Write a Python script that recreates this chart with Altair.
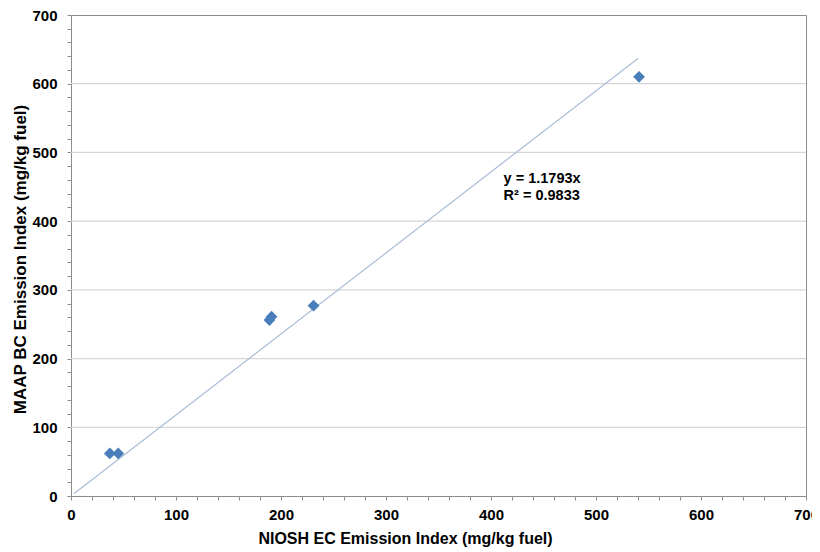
import altair as alt
import pandas as pd

# Data
niosh_ec = [37, 45, 189, 191, 231, 541]
maap_bc = [62, 62, 256, 261, 277, 610]

trend_x = [3, 540]
trend_y = [3.5, 636.8]

grid_y = [100, 200, 300, 400, 500, 600]

eq_lines = ["y = 1.1793x", "R² = 0.9833"]
eq_x = [412, 412]
eq_y = [461, 436]

pts = pd.DataFrame({"x": niosh_ec, "y": maap_bc})
trend = pd.DataFrame({"x": trend_x, "y": trend_y})
grid = pd.DataFrame({"y": grid_y})
eq = pd.DataFrame({"x": eq_x, "y": eq_y, "t": eq_lines})

FONT = "Liberation Sans"
ticks = list(range(0, 701, 20))
label_expr = "datum.value % 100 == 0 ? datum.label : ''"

xs = alt.Scale(domain=[0, 700], nice=False)
ys = alt.Scale(domain=[0, 700], nice=False)

x_axis = alt.Axis(values=ticks, labelExpr=label_expr, grid=False,
                  title="NIOSH EC Emission Index (mg/kg fuel)",
                  labelFont=FONT, labelFontSize=15, labelFontWeight="bold",
                  labelColor="#000", titleFont=FONT, titleFontSize=16,
                  titleFontWeight="bold", titleColor="#000",
                  titleX=334, titleY=47, titleAlign="center",
                  titleBaseline="alphabetic",
                  domainColor="#8c8c8c", tickColor="#8c8c8c", tickSize=4,
                  labelPadding=7, labelFlush=False, labelOverlap=False)
y_axis = alt.Axis(values=ticks, labelExpr=label_expr, grid=False,
                  title="MAAP BC Emission Index (mg/kg fuel)",
                  labelFont=FONT, labelFontSize=15, labelFontWeight="bold",
                  labelColor="#000", titleFont=FONT, titleFontSize=17,
                  titleFontWeight="bold", titleColor="#000",
                  titleX=-51, titleY=244, titleAlign="center",
                  titleBaseline="middle", titleAngle=270,
                  domainColor="#8c8c8c", tickColor="#8c8c8c", tickSize=4,
                  labelPadding=10, labelFlush=False, labelOverlap=False)

gridlines = alt.Chart(grid).mark_rule(color="#d6d6d6", strokeWidth=1.2).encode(
    y=alt.Y("y:Q", scale=ys, axis=y_axis)
)

line = alt.Chart(trend).mark_line(color="#a9bcd4", strokeWidth=1.2).encode(
    x=alt.X("x:Q", scale=xs, axis=x_axis),
    y=alt.Y("y:Q", scale=ys, axis=y_axis),
)

points = alt.Chart(pts).mark_point(shape="diamond", filled=True, size=140,
                                   color="#4a7ebb", opacity=1).encode(
    x=alt.X("x:Q", scale=xs, axis=x_axis),
    y=alt.Y("y:Q", scale=ys, axis=y_axis),
)

text = alt.Chart(eq).mark_text(align="left", baseline="middle", font=FONT,
                               fontSize=14.5, fontWeight="bold", color="#000").encode(
    x=alt.X("x:Q", scale=xs, axis=x_axis),
    y=alt.Y("y:Q", scale=ys, axis=y_axis),
    text="t:N",
)

chart = alt.layer(gridlines, line, points, text).properties(
    width=735, height=481,
    autosize=alt.AutoSizeParams(type="none"),
    padding={"left": 63, "top": 7, "right": 6, "bottom": 51},
    background="white",
).configure_view(stroke="#8c8c8c", strokeWidth=1)

chart.save("out.html", embed_options={"renderer": "svg", "actions": False})
